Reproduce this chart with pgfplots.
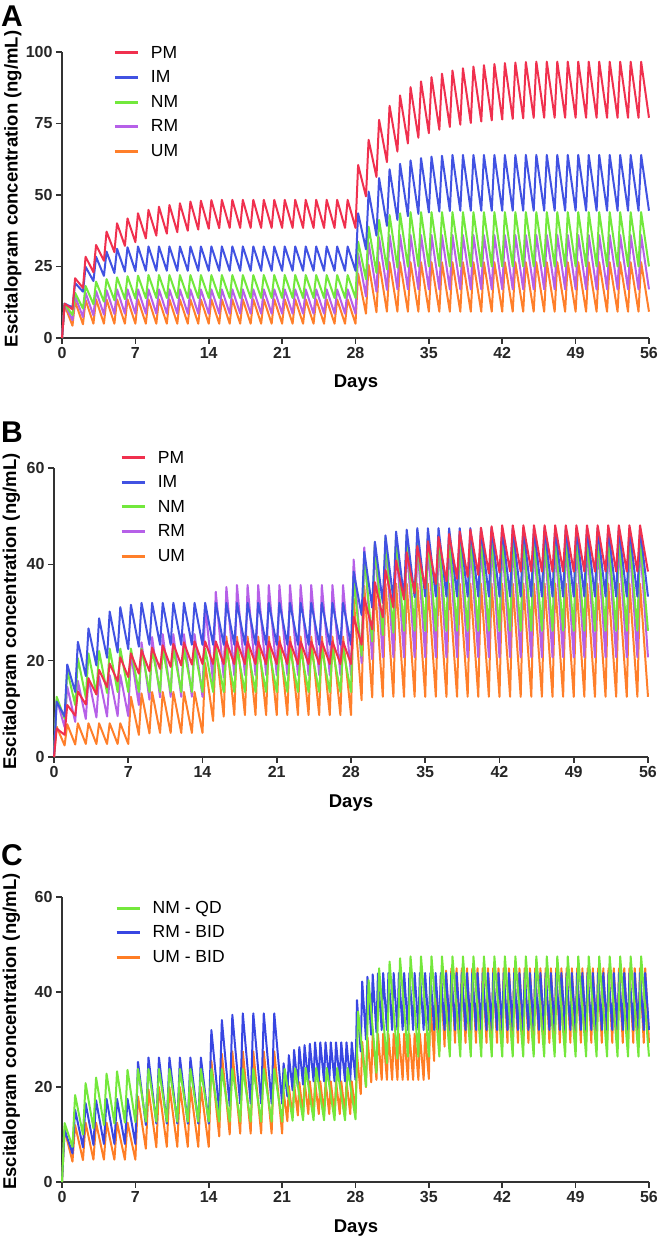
\documentclass[border=0pt]{standalone}
\usepackage{pgfplots}
\pgfplotsset{compat=1.18}
\usepackage{pgfplotstable}
\usepackage{fontspec}
\setmainfont{Liberation Sans}
\definecolor{cPM}{HTML}{F0304E}
\definecolor{cIM}{HTML}{4152E2}
\definecolor{cNM}{HTML}{72E83C}
\definecolor{cRM}{HTML}{B660E8}
\definecolor{cUM}{HTML}{FF7F2A}
\definecolor{cG}{HTML}{74E83C}
\definecolor{cB}{HTML}{3846E2}
\definecolor{cO}{HTML}{FF7D24}
\definecolor{axc}{HTML}{333333}
\pgfplotsset{
 panel/.style={
  scale only axis, clip=false,
  axis x line*=bottom, axis y line*=left,
  axis line style={line width=2pt, draw=axc},
  xmin=0, xmax=56, xtick={0,7,14,21,28,35,42,49,56},
  tick align=outside, major tick length=6pt,
  tick style={line width=1.6pt, draw=axc},
  tick label style={font=\fontsize{16}{18}\selectfont\bfseries, text=black!85},
  /pgf/number format/assume math mode=true,
  legend cell align=left,
  legend style={draw=none, fill=none, inner sep=0pt, row sep=7pt,
    font=\fontsize{17.5}{19}\selectfont, nodes={inner sep=2pt}},
  legend image code/.code={\draw[line width=3pt] (0pt,0pt) -- (23pt,0pt); \path (34pt,0pt);},
 },
 curve/.style={line width=2pt, line join=round, forget plot}
}

\pgfplotstableread{
t PM IM NM RM UM
0 0 0 0 0 0
0.25 12.0 12.0 12.0 12.0 11.5
1 10.0 10.7 8.0 6.2 4.3
1.25 20.9 19.2 15.8 14.6 12.8
2 17.5 16.2 10.3 7.3 4.8
2.25 28.4 24.9 18.2 15.8 13.3
3 23.0 19.9 11.8 7.9 5.0
3.25 32.5 28.4 19.7 16.4 13.5
4 27.0 21.7 12.7 8.2 5.0
4.25 37.2 30.2 20.6 16.7 13.5
5 30.0 22.7 13.2 8.4 5.0
5.25 40.1 31.2 21.2 17.0 13.5
6 32.2 23.2 13.6 8.5 5.0
6.25 41.8 31.7 21.6 17.0 13.5
7 33.5 23.4 13.8 8.5 5.0
7.25 43.6 32.0 21.8 17.0 13.5
8 34.8 23.5 13.9 8.5 5.0
8.25 44.8 32.0 22.0 17.0 13.5
9 35.8 23.5 14.0 8.5 5.0
9.25 45.9 32.0 22.0 17.0 13.5
10 36.5 23.5 14.0 8.5 5.0
10.25 46.5 32.0 22.0 17.0 13.5
11 37.0 23.5 14.0 8.5 5.0
11.25 47.1 32.0 22.0 17.0 13.5
12 37.5 23.5 14.0 8.5 5.0
12.25 47.7 32.0 22.0 17.0 13.5
13 37.9 23.5 14.0 8.5 5.0
13.25 48.0 32.0 22.0 17.0 13.5
14 38.2 23.5 14.0 8.5 5.0
14.25 48.2 32.0 22.0 17.0 13.5
15 38.4 23.5 14.0 8.5 5.0
15.25 48.3 32.0 22.0 17.0 13.5
16 38.5 23.5 14.0 8.5 5.0
16.25 48.3 32.0 22.0 17.0 13.5
17 38.5 23.5 14.0 8.5 5.0
17.25 48.3 32.0 22.0 17.0 13.5
18 38.5 23.5 14.0 8.5 5.0
18.25 48.3 32.0 22.0 17.0 13.5
19 38.5 23.5 14.0 8.5 5.0
19.25 48.3 32.0 22.0 17.0 13.5
20 38.5 23.5 14.0 8.5 5.0
20.25 48.3 32.0 22.0 17.0 13.5
21 38.5 23.5 14.0 8.5 5.0
21.25 48.3 32.0 22.0 17.0 13.5
22 38.5 23.5 14.0 8.5 5.0
22.25 48.3 32.0 22.0 17.0 13.5
23 38.5 23.5 14.0 8.5 5.0
23.25 48.3 32.0 22.0 17.0 13.5
24 38.5 23.5 14.0 8.5 5.0
24.25 48.3 32.0 22.0 17.0 13.5
25 38.5 23.5 14.0 8.5 5.0
25.25 48.3 32.0 22.0 17.0 13.5
26 38.5 23.5 14.0 8.5 5.0
26.25 48.3 32.0 22.0 17.0 13.5
27 38.5 23.5 14.0 8.5 5.0
27.25 48.3 32.0 22.0 17.0 13.5
28 38.5 23.5 14.0 8.5 5.0
28.25 60.5 43.6 33.7 29.5 22.5
29 49.5 31.0 20.5 14.5 8.5
29.25 69.3 51.2 38.9 33.5 25.6
30 56.3 35.8 22.8 16.2 9.0
30.25 76.3 55.9 41.3 35.2 26.5
31 61.5 39.2 24.0 16.8 9.2
31.25 81.2 59.0 43.0 36.0 26.5
32 65.2 41.3 24.6 17.0 9.2
32.25 84.8 60.9 43.6 36.0 26.5
33 68.0 42.6 24.9 17.0 9.2
33.25 87.7 62.1 44.0 36.0 26.5
34 70.0 43.4 25.0 17.0 9.2
34.25 89.7 62.9 44.0 36.0 26.5
35 71.6 43.9 25.0 17.0 9.2
35.25 91.2 63.4 44.0 36.0 26.5
36 72.8 44.2 25.0 17.0 9.2
36.25 92.4 63.7 44.0 36.0 26.5
37 73.8 44.4 25.0 17.0 9.2
37.25 93.5 64.0 44.0 36.0 26.5
38 74.6 44.5 25.0 17.0 9.2
38.25 94.3 64.0 44.0 36.0 26.5
39 75.2 44.5 25.0 17.0 9.2
39.25 94.9 64.0 44.0 36.0 26.5
40 75.7 44.5 25.0 17.0 9.2
40.25 95.4 64.0 44.0 36.0 26.5
41 76.1 44.5 25.0 17.0 9.2
41.25 95.8 64.0 44.0 36.0 26.5
42 76.4 44.5 25.0 17.0 9.2
42.25 96.1 64.0 44.0 36.0 26.5
43 76.6 44.5 25.0 17.0 9.2
43.25 96.3 64.0 44.0 36.0 26.5
44 76.8 44.5 25.0 17.0 9.2
44.25 96.5 64.0 44.0 36.0 26.5
45 77.0 44.5 25.0 17.0 9.2
45.25 96.6 64.0 44.0 36.0 26.5
46 77.0 44.5 25.0 17.0 9.2
46.25 96.6 64.0 44.0 36.0 26.5
47 77.0 44.5 25.0 17.0 9.2
47.25 96.6 64.0 44.0 36.0 26.5
48 77.0 44.5 25.0 17.0 9.2
48.25 96.6 64.0 44.0 36.0 26.5
49 77.0 44.5 25.0 17.0 9.2
49.25 96.6 64.0 44.0 36.0 26.5
50 77.0 44.5 25.0 17.0 9.2
50.25 96.6 64.0 44.0 36.0 26.5
51 77.0 44.5 25.0 17.0 9.2
51.25 96.6 64.0 44.0 36.0 26.5
52 77.0 44.5 25.0 17.0 9.2
52.25 96.6 64.0 44.0 36.0 26.5
53 77.0 44.5 25.0 17.0 9.2
53.25 96.6 64.0 44.0 36.0 26.5
54 77.0 44.5 25.0 17.0 9.2
54.25 96.6 64.0 44.0 36.0 26.5
55 77.0 44.5 25.0 17.0 9.2
55.25 96.6 64.0 44.0 36.0 26.5
56 77.0 44.5 25.0 17.0 9.2
}\tabA

\pgfplotstableread{
t PM IM NM RM UM
0 0 0 0 0 0
0.25 5.9 11.5 12.5 12.0 6.3
1 4.6 8.4 8.0 6.2 2.4
1.25 10.8 19.2 18.0 14.6 6.8
2 8.6 13.5 10.8 7.3 2.6
2.25 13.6 23.9 20.5 15.8 7.0
3 10.9 16.8 12.3 7.9 2.7
3.25 16.3 26.7 21.5 16.4 7.0
4 13.0 19.0 13.0 8.2 2.7
4.25 18.1 28.8 22.0 16.7 7.0
5 14.5 20.6 13.3 8.4 2.7
5.25 19.4 30.2 22.5 17.0 7.0
6 15.7 21.7 13.5 8.5 2.7
6.25 20.7 31.1 22.5 17.0 7.0
7 16.6 22.4 13.5 8.5 2.7
7.25 21.5 31.6 22.5 21.5 12.5
8 17.3 22.9 13.5 10.8 4.6
8.25 22.2 32.0 22.5 23.8 13.2
9 17.8 23.3 13.5 11.9 4.9
9.25 22.7 32.0 22.5 24.9 13.5
10 18.3 23.3 13.5 12.4 5.0
10.25 23.2 32.0 22.5 25.5 13.5
11 18.7 23.3 13.5 12.5 5.0
11.25 23.5 32.0 22.5 25.5 13.5
12 19.0 23.3 13.5 12.5 5.0
12.25 23.8 32.0 22.5 25.5 13.5
13 19.2 23.3 13.5 12.5 5.0
13.25 24.0 32.0 22.5 25.5 13.5
14 19.3 23.3 13.5 12.5 5.0
14.25 24.0 32.0 22.5 31.5 19.5
15 19.3 23.3 13.5 15.5 7.5
15.25 24.0 32.0 22.5 34.3 23.5
16 19.3 23.3 13.5 16.5 8.4
16.25 24.0 32.0 22.5 35.3 25.0
17 19.3 23.3 13.5 16.9 8.7
17.25 24.0 32.0 22.5 35.7 25.0
18 19.3 23.3 13.5 17.0 8.7
18.25 24.0 32.0 22.5 35.7 25.0
19 19.3 23.3 13.5 17.0 8.7
19.25 24.0 32.0 22.5 35.7 25.0
20 19.3 23.3 13.5 17.0 8.7
20.25 24.0 32.0 22.5 35.7 25.0
21 19.3 23.3 13.5 17.0 8.7
21.25 24.0 32.0 22.5 35.7 25.0
22 19.3 23.3 13.5 17.0 8.7
22.25 24.0 32.0 22.5 35.7 25.0
23 19.3 23.3 13.5 17.0 8.7
23.25 24.0 32.0 22.5 35.7 25.0
24 19.3 23.3 13.5 17.0 8.7
24.25 24.0 32.0 22.5 35.7 25.0
25 19.3 23.3 13.5 17.0 8.7
25.25 24.0 32.0 22.5 35.7 25.0
26 19.3 23.3 13.5 17.0 8.7
26.25 24.0 32.0 22.5 35.7 25.0
27 19.3 23.3 13.5 17.0 8.7
27.25 24.0 32.0 22.5 35.7 25.0
28 19.3 23.3 13.5 17.0 8.7
28.25 29.1 38.5 37.0 41.0 33.0
29 23.3 29.5 21.0 19.5 11.8
29.25 33.1 42.6 42.0 43.5 35.5
30 26.5 31.0 24.0 20.3 12.4
30.25 36.3 44.7 44.5 44.5 36.0
31 29.0 32.0 25.3 20.7 12.5
31.25 38.8 46.0 45.5 44.5 36.0
32 31.0 32.6 25.8 20.7 12.5
32.25 40.8 46.8 46.0 44.5 36.0
33 32.7 33.0 26.2 20.7 12.5
33.25 42.5 47.2 46.0 44.5 36.0
34 34.0 33.2 26.2 20.7 12.5
34.25 43.8 47.5 46.0 44.5 36.0
35 35.0 33.3 26.2 20.7 12.5
35.25 44.8 47.5 46.0 44.5 36.0
36 35.9 33.3 26.2 20.7 12.5
36.25 45.7 47.5 46.0 44.5 36.0
37 36.5 33.3 26.2 20.7 12.5
37.25 46.3 47.5 46.0 44.5 36.0
38 37.0 33.3 26.2 20.7 12.5
38.25 46.8 47.5 46.0 44.5 36.0
39 37.4 33.3 26.2 20.7 12.5
39.25 47.2 47.5 46.0 44.5 36.0
40 37.8 33.3 26.2 20.7 12.5
40.25 47.6 47.5 46.0 44.5 36.0
41 38.1 33.3 26.2 20.7 12.5
41.25 47.9 47.5 46.0 44.5 36.0
42 38.3 33.3 26.2 20.7 12.5
42.25 48.1 47.5 46.0 44.5 36.0
43 38.5 33.3 26.2 20.7 12.5
43.25 48.1 47.5 46.0 44.5 36.0
44 38.5 33.3 26.2 20.7 12.5
44.25 48.1 47.5 46.0 44.5 36.0
45 38.5 33.3 26.2 20.7 12.5
45.25 48.1 47.5 46.0 44.5 36.0
46 38.5 33.3 26.2 20.7 12.5
46.25 48.1 47.5 46.0 44.5 36.0
47 38.5 33.3 26.2 20.7 12.5
47.25 48.1 47.5 46.0 44.5 36.0
48 38.5 33.3 26.2 20.7 12.5
48.25 48.1 47.5 46.0 44.5 36.0
49 38.5 33.3 26.2 20.7 12.5
49.25 48.1 47.5 46.0 44.5 36.0
50 38.5 33.3 26.2 20.7 12.5
50.25 48.1 47.5 46.0 44.5 36.0
51 38.5 33.3 26.2 20.7 12.5
51.25 48.1 47.5 46.0 44.5 36.0
52 38.5 33.3 26.2 20.7 12.5
52.25 48.1 47.5 46.0 44.5 36.0
53 38.5 33.3 26.2 20.7 12.5
53.25 48.1 47.5 46.0 44.5 36.0
54 38.5 33.3 26.2 20.7 12.5
54.25 48.1 47.5 46.0 44.5 36.0
55 38.5 33.3 26.2 20.7 12.5
55.25 48.1 47.5 46.0 44.5 36.0
56 38.5 33.3 26.2 20.7 12.5
}\tabB

\begin{document}
\begin{tikzpicture}
\useasboundingbox (0pt,0pt) rectangle (660pt,1240pt);

% ---------------- Panel A
\begin{axis}[panel, at={(62pt,902pt)}, anchor=south west, width=587pt, height=286pt,
  ymin=0, ymax=100, ytick={0,25,50,75,100},
  legend style={at={(0.087,1.028)}, anchor=north west}]
\addlegendimage{cPM}\addlegendentry{PM}
\addlegendimage{cIM}\addlegendentry{IM}
\addlegendimage{cNM}\addlegendentry{NM}
\addlegendimage{cRM}\addlegendentry{RM}
\addlegendimage{cUM}\addlegendentry{UM}
\addplot[curve, cUM] table[x=t, y=UM] {\tabA};
\addplot[curve, cRM] table[x=t, y=RM] {\tabA};
\addplot[curve, cNM] table[x=t, y=NM] {\tabA};
\addplot[curve, cIM] table[x=t, y=IM] {\tabA};
\addplot[curve, cPM] table[x=t, y=PM] {\tabA};
\end{axis}

% ---------------- Panel B
\begin{axis}[panel, at={(54pt,483pt)}, anchor=south west, width=594pt, height=289pt,
  ymin=0, ymax=60, ytick={0,20,40,60},
  legend style={at={(0.111,1.066)}, anchor=north west}]
\addlegendimage{cPM}\addlegendentry{PM}
\addlegendimage{cIM}\addlegendentry{IM}
\addlegendimage{cNM}\addlegendentry{NM}
\addlegendimage{cRM}\addlegendentry{RM}
\addlegendimage{cUM}\addlegendentry{UM}
\addplot[curve, cUM] table[x=t, y=UM] {\tabB};
\addplot[curve, cRM] table[x=t, y=RM] {\tabB};
\addplot[curve, cNM] table[x=t, y=NM] {\tabB};
\addplot[curve, cIM] table[x=t, y=IM] {\tabB};
\addplot[curve, cPM] table[x=t, y=PM] {\tabB};
\end{axis}

% ---------------- Panel C
\begin{axis}[panel, at={(62pt,58pt)}, anchor=south west, width=587pt, height=285pt,
  ymin=0, ymax=60, ytick={0,20,40,60},
  legend style={at={(0.090,0.993)}, anchor=north west}]
\addlegendimage{cG}\addlegendentry{NM - QD}
\addlegendimage{cB}\addlegendentry{RM - BID}
\addlegendimage{cO}\addlegendentry{UM - BID}
% UM - BID
\addplot[curve, cO] coordinates {
(0,0) (0.25,11.0) (1,4.3) (1.25,12.0) (2,4.6) (2.25,12.5) (3,4.7) (3.25,12.5) (4,4.7) (4.25,12.5)
(5,4.7) (5.25,12.5) (6,4.7) (6.25,12.5) (7,4.7) (7.25,18.0) (8,7.0) (8.25,19.5) (9,7.3) (9.25,20.0)
(10,7.4) (10.25,20.0) (11,7.4) (11.25,20.0) (12,7.4) (12.25,20.0) (13,7.4) (13.25,20.0) (14,7.4) (14.25,25.5)
(15,9.6) (15.25,27.0) (16,10.0) (16.25,27.5) (17,10.2) (17.25,27.5) (18,10.2) (18.25,27.5) (19,10.2) (19.25,27.5)
(20,10.2) (20.25,27.5) (21,10.2) (21.14,19.0) (21.5,12.8) (21.64,20.2) (22,13.6) (22.14,20.7) (22.5,14.0) (22.64,21.0)
(23,14.3) (23.14,21.2) (23.5,14.3) (23.64,21.2) (24,14.3) (24.14,21.2) (24.5,14.3) (24.64,21.2) (25,14.3) (25.14,21.2)
(25.5,14.3) (25.64,21.2) (26,14.3) (26.14,21.2) (26.5,14.3) (26.64,21.2) (27,14.3) (27.14,21.2) (27.5,14.3) (27.64,21.2)
(28,14.5) (28.14,27.0) (28.5,18.5) (28.64,29.5) (29,20.0) (29.14,30.5) (29.5,21.0) (29.64,31.0) (30,21.5) (30.14,31.2)
(30.5,21.5) (30.64,31.2) (31,21.5) (31.14,31.2) (31.5,21.5) (31.64,31.2) (32,21.5) (32.14,31.2) (32.5,21.5) (32.64,31.2)
(33,21.5) (33.14,31.2) (33.5,21.5) (33.64,31.2) (34,21.5) (34.14,31.2) (34.5,21.5) (34.64,31.2) (35,21.7) (35.14,38.0)
(35.5,25.5) (35.64,41.5) (36,27.5) (36.14,43.5) (36.5,28.5) (36.64,44.5) (37,29.3) (37.14,45.0) (37.5,29.3) (37.64,45.0)
(38,29.3) (38.14,45.0) (38.5,29.3) (38.64,45.0) (39,29.3) (39.14,45.0) (39.5,29.3) (39.64,45.0) (40,29.3) (40.14,45.0)
(40.5,29.3) (40.64,45.0) (41,29.3) (41.14,45.0) (41.5,29.3) (41.64,45.0) (42,29.3) (42.14,45.0) (42.5,29.3) (42.64,45.0)
(43,29.3) (43.14,45.0) (43.5,29.3) (43.64,45.0) (44,29.3) (44.14,45.0) (44.5,29.3) (44.64,45.0) (45,29.3) (45.14,45.0)
(45.5,29.3) (45.64,45.0) (46,29.3) (46.14,45.0) (46.5,29.3) (46.64,45.0) (47,29.3) (47.14,45.0) (47.5,29.3) (47.64,45.0)
(48,29.3) (48.14,45.0) (48.5,29.3) (48.64,45.0) (49,29.3) (49.14,45.0) (49.5,29.3) (49.64,45.0) (50,29.3) (50.14,45.0)
(50.5,29.3) (50.64,45.0) (51,29.3) (51.14,45.0) (51.5,29.3) (51.64,45.0) (52,29.3) (52.14,45.0) (52.5,29.3) (52.64,45.0)
(53,29.3) (53.14,45.0) (53.5,29.3) (53.64,45.0) (54,29.3) (54.14,45.0) (54.5,29.3) (54.64,45.0) (55,29.3) (55.14,45.0)
(55.5,29.3) (55.64,45.0) (56,29.3)
};
% RM - BID
\addplot[curve, cB] coordinates {
(0,0) (0.25,11.0) (1,6.0) (1.25,15.2) (2,7.3) (2.25,16.6) (3,7.8) (3.25,17.2) (4,8.0) (4.25,17.5)
(5,8.0) (5.25,17.5) (6,8.0) (6.25,17.5) (7,8.0) (7.25,25.3) (8,12.0) (8.25,26.2) (9,12.3) (9.25,26.2)
(10,12.3) (10.25,26.2) (11,12.3) (11.25,26.2) (12,12.3) (12.25,26.2) (13,12.3) (13.25,26.2) (14,12.3) (14.25,32.0)
(15,15.0) (15.25,34.1) (16,16.0) (16.25,35.2) (17,16.5) (17.25,35.5) (18,16.5) (18.25,35.5) (19,16.5) (19.25,35.5)
(20,16.5) (20.25,35.5) (21,16.5) (21.14,25.0) (21.5,18.0) (21.64,26.7) (22,19.3) (22.14,27.8) (22.5,20.0) (22.64,28.4)
(23,20.5) (23.14,28.8) (23.5,20.8) (23.64,29.1) (24,21.2) (24.14,29.4) (24.5,21.2) (24.64,29.4) (25,21.2) (25.14,29.4)
(25.5,21.2) (25.64,29.4) (26,21.2) (26.14,29.4) (26.5,21.2) (26.64,29.4) (27,21.2) (27.14,29.4) (27.5,21.2) (27.64,29.4)
(28,21.5) (28.14,38.3) (28.5,27.5) (28.64,42.2) (29,30.0) (29.14,43.2) (29.5,31.0) (29.64,43.7) (30,31.5) (30.14,43.9)
(30.5,32.0) (30.64,44.0) (31,32.0) (31.14,44.0) (31.5,32.0) (31.64,44.0) (32,32.0) (32.14,44.0) (32.5,32.0) (32.64,44.0)
(33,32.0) (33.14,44.0) (33.5,32.0) (33.64,44.0) (34,32.0) (34.14,44.0) (34.5,32.0) (34.64,44.0) (35,32.0) (35.14,44.0)
(35.5,32.0) (35.64,44.0) (36,32.0) (36.14,44.0) (36.5,32.0) (36.64,44.0) (37,32.0) (37.14,44.0) (37.5,32.0) (37.64,44.0)
(38,32.0) (38.14,44.0) (38.5,32.0) (38.64,44.0) (39,32.0) (39.14,44.0) (39.5,32.0) (39.64,44.0) (40,32.0) (40.14,44.0)
(40.5,32.0) (40.64,44.0) (41,32.0) (41.14,44.0) (41.5,32.0) (41.64,44.0) (42,32.0) (42.14,44.0) (42.5,32.0) (42.64,44.0)
(43,32.0) (43.14,44.0) (43.5,32.0) (43.64,44.0) (44,32.0) (44.14,44.0) (44.5,32.0) (44.64,44.0) (45,32.0) (45.14,44.0)
(45.5,32.0) (45.64,44.0) (46,32.0) (46.14,44.0) (46.5,32.0) (46.64,44.0) (47,32.0) (47.14,44.0) (47.5,32.0) (47.64,44.0)
(48,32.0) (48.14,44.0) (48.5,32.0) (48.64,44.0) (49,32.0) (49.14,44.0) (49.5,32.0) (49.64,44.0) (50,32.0) (50.14,44.0)
(50.5,32.0) (50.64,44.0) (51,32.0) (51.14,44.0) (51.5,32.0) (51.64,44.0) (52,32.0) (52.14,44.0) (52.5,32.0) (52.64,44.0)
(53,32.0) (53.14,44.0) (53.5,32.0) (53.64,44.0) (54,32.0) (54.14,44.0) (54.5,32.0) (54.64,44.0) (55,32.0) (55.14,44.0)
(55.5,32.0) (55.64,44.0) (56,32.0)
};
% NM - QD
\addplot[curve, cG] coordinates {
(0,0) (0.25,12.4) (1,7.4) (1.25,18.3) (2,10.0) (2.25,20.8) (3,11.3) (3.25,22.0) (4,12.0) (4.25,22.8)
(5,12.3) (5.25,23.3) (6,12.5) (6.25,23.6) (7,12.6) (7.25,23.8) (8,12.7) (8.25,23.8) (9,12.7) (9.25,23.8)
(10,12.7) (10.25,23.8) (11,12.7) (11.25,23.8) (12,12.7) (12.25,23.8) (13,12.7) (13.25,23.8) (14,12.7) (14.25,23.8)
(15,12.7) (15.25,23.8) (16,12.7) (16.25,23.8) (17,12.7) (17.25,23.8) (18,12.7) (18.25,23.8) (19,12.7) (19.25,23.8)
(20,12.7) (20.25,23.8) (21,12.7) (21.25,23.8) (22,12.9) (22.25,23.9) (23,13.0) (23.25,24.0) (24,13.0) (24.25,24.0)
(25,13.0) (25.25,24.0) (26,13.0) (26.25,24.0) (27,13.0) (27.25,24.0) (28,13.2) (28.25,35.9) (29,20.1) (29.25,42.5)
(30,23.0) (30.25,45.0) (31,25.0) (31.25,46.4) (32,26.0) (32.25,47.1) (33,26.4) (33.25,47.5) (34,26.4) (34.25,47.5)
(35,26.4) (35.25,47.5) (36,26.4) (36.25,47.5) (37,26.4) (37.25,47.5) (38,26.4) (38.25,47.5) (39,26.4) (39.25,47.5)
(40,26.4) (40.25,47.5) (41,26.4) (41.25,47.5) (42,26.4) (42.25,47.5) (43,26.4) (43.25,47.5) (44,26.4) (44.25,47.5)
(45,26.4) (45.25,47.5) (46,26.4) (46.25,47.5) (47,26.4) (47.25,47.5) (48,26.4) (48.25,47.5) (49,26.4) (49.25,47.5)
(50,26.4) (50.25,47.5) (51,26.4) (51.25,47.5) (52,26.4) (52.25,47.5) (53,26.4) (53.25,47.5) (54,26.4) (54.25,47.5)
(55,26.4) (55.25,47.5) (56,26.4)
};
\end{axis}

% ---------------- texts
\node[anchor=north west, inner sep=0pt, font=\fontsize{30}{30}\selectfont\bfseries] at (1pt,1234pt) {A};
\node[anchor=north west, inner sep=0pt, font=\fontsize{30}{30}\selectfont\bfseries] at (1pt,818pt) {B};
\node[anchor=north west, inner sep=0pt, font=\fontsize{30}{30}\selectfont\bfseries] at (1pt,396pt) {C};
\node[rotate=90, font=\fontsize{18.5}{22}\selectfont\bfseries] at (13pt,1051pt) {Escitalopram concentration (ng/mL)};
\node[rotate=90, font=\fontsize{18.5}{22}\selectfont\bfseries] at (11.5pt,628.5pt) {Escitalopram concentration (ng/mL)};
\node[rotate=90, font=\fontsize{18.5}{22}\selectfont\bfseries] at (11.5pt,208.5pt) {Escitalopram concentration (ng/mL)};
\node[font=\fontsize{18.5}{22}\selectfont\bfseries] at (356pt,857pt) {Days};
\node[font=\fontsize{18.5}{22}\selectfont\bfseries] at (351pt,437pt) {Days};
\node[font=\fontsize{18.5}{22}\selectfont\bfseries] at (356pt,12pt) {Days};
\end{tikzpicture}
\end{document}
